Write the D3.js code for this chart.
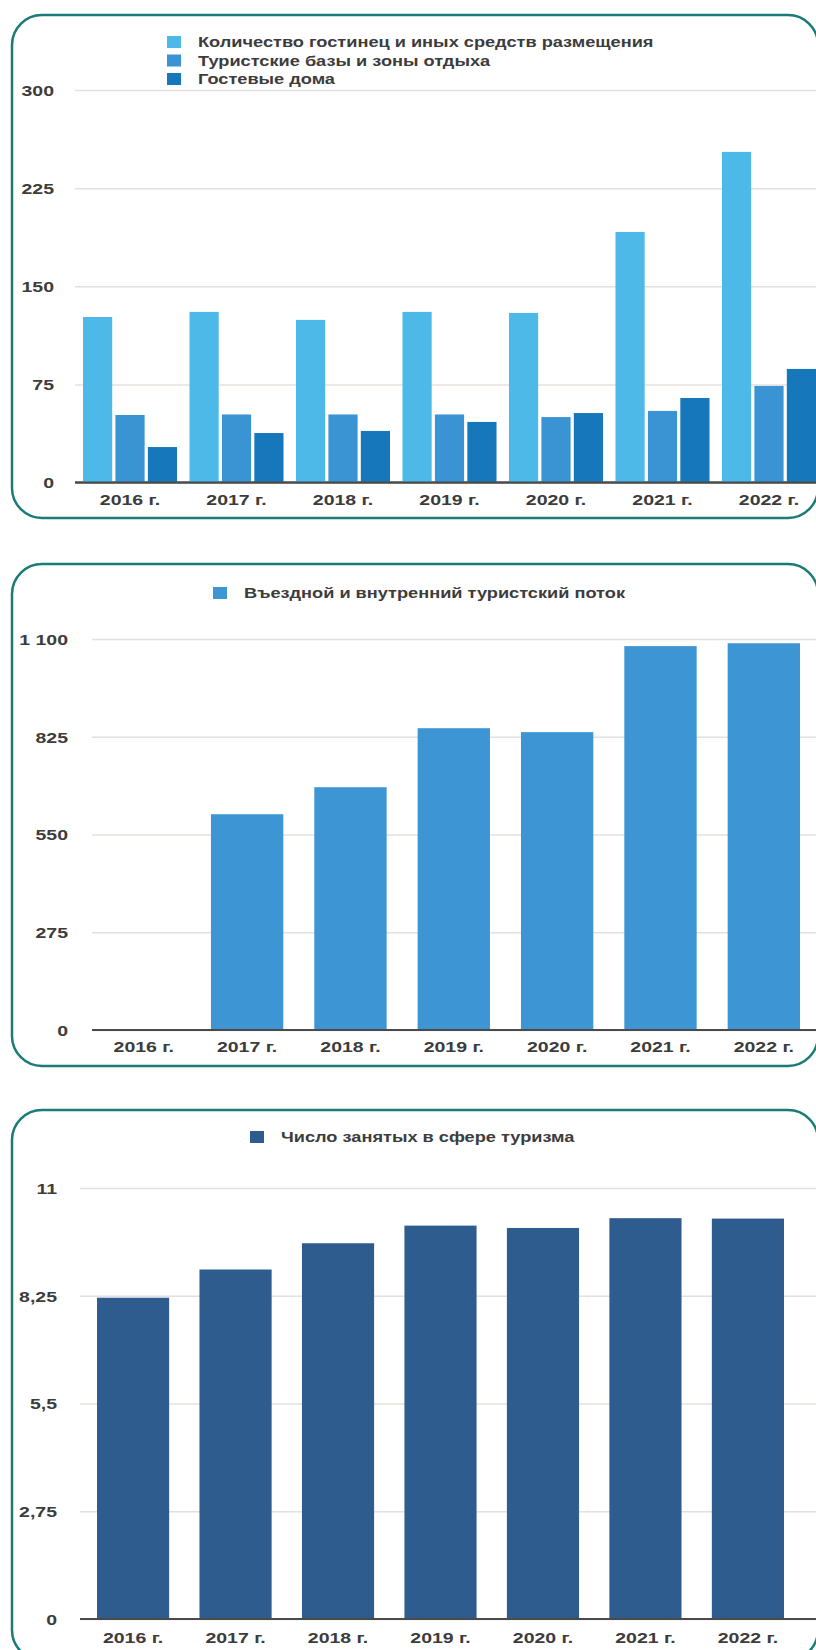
<html>
<head>
<meta charset="utf-8">
<script src="https://d3js.org/d3.v7.min.js"></script>
<style>
  body { margin: 0; background: #fff; }
  text { font-family: "Liberation Sans", Arial, sans-serif; font-weight: bold; fill: #3c3c3c; }
</style>
</head>
<body>
<svg width="816" height="1650"></svg>
<script>
// data
var years = ["2016 г.", "2017 г.", "2018 г.", "2019 г.", "2020 г.", "2021 г.", "2022 г."];

var hotels = [126.5, 130.4, 124.3, 130.4, 129.6, 191.5, 252.7];
var touristBases = [51.6, 52, 52, 52, 50, 54.7, 73.8];
var guestHouses = [27.1, 37.8, 39.4, 46.3, 53.1, 64.6, 86.8];
var names1 = ["Количество гостинец и иных средств размещения", "Туристские базы и зоны отдыха", "Гостевые дома"];
var ticks1 = [0, 75, 150, 225, 300];
var tickLabels1 = ["0", "75", "150", "225", "300"];

var touristFlow = [0, 607, 683, 849, 838, 1080, 1088];
var name2 = "Въездной и внутренний туристский поток";
var ticks2 = [0, 275, 550, 825, 1100];
var tickLabels2 = ["0", "275", "550", "825", "1 100"];

var employed = [8.2, 8.92, 9.59, 10.04, 9.98, 10.23, 10.22];
var name3 = "Число занятых в сфере туризма";
var ticks3 = [0, 2.75, 5.5, 8.25, 11];
var tickLabels3 = ["0", "2,75", "5,5", "8,25", "11"];

var colors1 = ["#4cb9e9", "#3a93d3", "#1777bb"];
var color2 = "#3d95d3";
var color3 = "#2e5c8f";
var border = "#1b7b76";
var sx = 1.3; // text in the picture is stretched horizontally

var svg = d3.select("svg");

function panel(top, bottom) {
  svg.append("rect")
    .attr("x", 12).attr("y", top)
    .attr("width", 806).attr("height", bottom - top)
    .attr("rx", 30).attr("ry", 30)
    .attr("fill", "none")
    .attr("stroke", border)
    .attr("stroke-width", 2.5);
}

function yAxis(y, ticks, labels, gridLeft, labelRight) {
  var g = svg.append("g")
    .attr("transform", "translate(" + gridLeft + ",0)")
    .call(d3.axisLeft(y).tickValues(ticks)
      .tickFormat(function (d, i) { return labels[i]; })
      .tickSize(-(816 - gridLeft)));
  g.select(".domain").remove();
  g.selectAll(".tick line").attr("stroke", "#e4e0dd").attr("stroke-width", 1.5);
  g.selectAll(".tick text")
    .attr("x", 0).attr("dy", "0.36em")
    .attr("font-size", 15)
    .attr("text-anchor", "end")
    .attr("transform", "translate(" + (labelRight - gridLeft) + ",0) scale(" + sx + ",1)");
  svg.append("line")
    .attr("x1", gridLeft).attr("x2", 816)
    .attr("y1", y(0)).attr("y2", y(0))
    .attr("stroke", "#4a4a4a").attr("stroke-width", 2);
}

function xAxis(x, yPos) {
  var g = svg.append("g")
    .attr("transform", "translate(0," + yPos + ")")
    .call(d3.axisBottom(x).tickSize(0));
  g.select(".domain").remove();
  g.selectAll(".tick text")
    .attr("y", 0).attr("dy", 0)
    .attr("font-size", 15)
    .attr("transform", "scale(" + sx + ",1)");
}

function legendItem(x, y, color, label) {
  svg.append("rect")
    .attr("x", x).attr("y", y - 6)
    .attr("width", 14).attr("height", 12)
    .attr("fill", color);
  svg.append("text")
    .attr("transform", "translate(" + (x + 31) + "," + (y + 5) + ") scale(" + sx + ",1)")
    .attr("font-size", 14)
    .text(label);
}

// ---------- chart 1 ----------
panel(15, 518);
var x1 = d3.scaleBand().domain(years).range([83, 816]).paddingInner(0.117).paddingOuter(0);
var xs1 = d3.scaleBand().domain([0, 1, 2]).range([0, x1.bandwidth()]).paddingInner(0.1);
var y1 = d3.scaleLinear().domain([0, 300]).range([482.5, 90]);
yAxis(y1, ticks1, tickLabels1, 75, 54);

var series1 = [hotels, touristBases, guestHouses];
var groups = svg.append("g").selectAll("g")
  .data(years)
  .enter().append("g")
  .attr("transform", function (d) { return "translate(" + x1(d) + ",0)"; });
groups.selectAll("rect")
  .data(function (d, i) { return series1.map(function (s, k) { return { k: k, v: s[i] }; }); })
  .enter().append("rect")
  .attr("x", function (d) { return xs1(d.k); })
  .attr("width", xs1.bandwidth())
  .attr("y", function (d) { return y1(d.v); })
  .attr("height", function (d) { return y1(0) - y1(d.v); })
  .attr("fill", function (d) { return colors1[d.k]; });
svg.append("line")
  .attr("x1", 75).attr("x2", 816).attr("y1", y1(0)).attr("y2", y1(0))
  .attr("stroke", "#4a4a4a").attr("stroke-width", 2);
xAxis(x1, 505);
names1.forEach(function (n, i) { legendItem(167, 42 + i * 18.5, colors1[i], n); });

// ---------- chart 2 ----------
panel(564, 1066);
var x2 = d3.scaleBand().domain(years).range([107.6, 800]).paddingInner(0.3).paddingOuter(0);
var y2 = d3.scaleLinear().domain([0, 1100]).range([1030, 639]);
yAxis(y2, ticks2, tickLabels2, 92, 68);
svg.append("g").selectAll("rect")
  .data(touristFlow)
  .enter().append("rect")
  .attr("x", function (d, i) { return x2(years[i]); })
  .attr("width", x2.bandwidth())
  .attr("y", function (d) { return y2(d); })
  .attr("height", function (d) { return y2(0) - y2(d); })
  .attr("fill", color2);
svg.append("line")
  .attr("x1", 92).attr("x2", 816).attr("y1", y2(0)).attr("y2", y2(0))
  .attr("stroke", "#4a4a4a").attr("stroke-width", 2);
xAxis(x2, 1052);
legendItem(213, 593, color2, name2);

// ---------- chart 3 ----------
panel(1110, 1660);
var x3 = d3.scaleBand().domain(years).range([97, 784]).paddingInner(0.296).paddingOuter(0);
var y3 = d3.scaleLinear().domain([0, 11]).range([1619, 1188]);
yAxis(y3, ticks3, tickLabels3, 80, 57);
svg.append("g").selectAll("rect")
  .data(employed)
  .enter().append("rect")
  .attr("x", function (d, i) { return x3(years[i]); })
  .attr("width", x3.bandwidth())
  .attr("y", function (d) { return y3(d); })
  .attr("height", function (d) { return y3(0) - y3(d); })
  .attr("fill", color3);
svg.append("line")
  .attr("x1", 80).attr("x2", 800).attr("y1", y3(0)).attr("y2", y3(0))
  .attr("stroke", "#4a4a4a").attr("stroke-width", 2);
xAxis(x3, 1643);
legendItem(250, 1137, color3, name3);
</script>
</body>
</html>
